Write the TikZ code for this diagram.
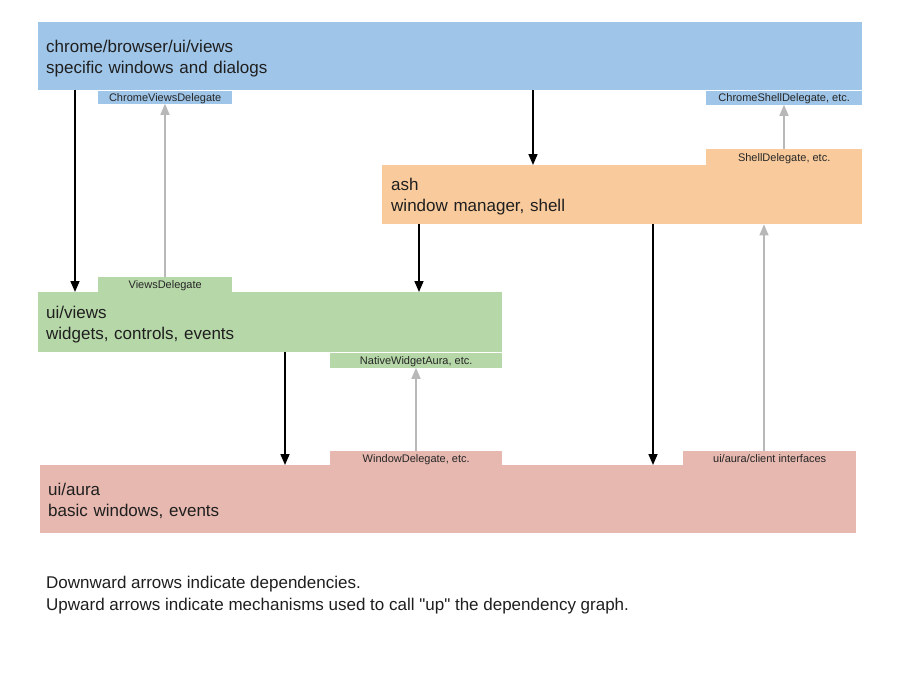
\documentclass[tikz,border=0pt]{standalone}
\usepackage{fontspec}
\setmainfont{Liberation Sans}[Ligatures=TeXOff]
\usetikzlibrary{calc,arrows.meta,positioning}

\definecolor{chromeblue}{HTML}{9FC5E8}
\definecolor{ashorange}{HTML}{F9CB9C}
\definecolor{viewsgreen}{HTML}{B6D7A8}
\definecolor{aurapink}{HTML}{E6B8AF}

% two lines of a layer, with fixed first height and last depth
\newcommand{\layerlines}[2]{\rule{0pt}{17pt}#1\\#2\rule[-4pt]{0pt}{4pt}}

\tikzset{
  layer/.style={fill=#1, inner xsep=8pt, inner ysep=0pt, anchor=north west, align=left,
    font=\fontsize{17}{21}\selectfont, text=black!88},
  tab/.style={fill=#1, inner sep=0pt, text height=10.5pt, text depth=2pt,
    font=\fontsize{11}{13}\selectfont, text=black!85},
  dep/.style={-{Triangle[width=9pt,length=11pt]}, line width=1.6pt, black},
  callup/.style={-{Triangle[width=9pt,length=11pt]}, line width=1.5pt, black!28},
}

\begin{document}
\begin{tikzpicture}[x=1pt, y=-1pt]
	\useasboundingbox (0, 0) rectangle (900, 680);
	\fill[white] (0, 0) rectangle (900, 680);
	\coordinate (origin) at (0, 0);

	% layers
	\node[layer=chromeblue, minimum height=68pt, text width=808pt] (chrome) at ($(origin) + (38, 22)$) {\layerlines{chrome/browser/ui/views}{specific windows and dialogs}};
	\node[layer=ashorange, minimum height=59pt, text width=462pt, inner xsep=9pt] (ash) at ($(origin) + (382, 165)$) {\layerlines{ash}{window manager, shell}};
	\node[layer=viewsgreen, minimum height=60pt, text width=448pt] (views) at ($(origin) + (38, 292)$) {\layerlines{ui/views}{widgets, controls, events}};
	\node[layer=aurapink, minimum height=68pt, text width=800pt] (aura) at ($(origin) + (40, 465)$) {\layerlines{ui/aura}{basic windows, events}};

	% delegate tabs
	\node[tab=chromeblue, anchor=north west, minimum width=134pt, minimum height=13pt] (cvd) at ($(chrome.south west) + (60, 0)$) {ChromeViewsDelegate};
	\node[tab=chromeblue, anchor=north east, minimum width=156pt, minimum height=14pt] (csd) at (chrome.south east) {ChromeShellDelegate, etc.};
	\node[tab=ashorange, anchor=south east, minimum width=156pt, minimum height=16pt] (sd) at (ash.north east) {ShellDelegate, etc.};
	\node[tab=viewsgreen, anchor=south west, minimum width=134pt, minimum height=15pt] (vd) at ($(views.north west) + (60, 0)$) {ViewsDelegate};
	\node[tab=viewsgreen, anchor=north east, minimum width=172pt, minimum height=15pt] (nwa) at (views.south east) {NativeWidgetAura, etc.};
	\node[tab=aurapink, anchor=south west, minimum width=172pt, minimum height=14pt] (wd) at ($(aura.north west) + (290, 0)$) {WindowDelegate, etc.};
	\node[tab=aurapink, anchor=south east, minimum width=173pt, minimum height=14pt] (client) at (aura.north east) {ui/aura/client interfaces};

	% dependencies
	\draw[dep] ($(chrome.south west) + (37, 0)$) -- ($(views.north west) + (37, 0)$);
	\draw[dep] ($(chrome.south west) + (495, 0)$) -- ($(ash.north west) + (151, 0)$);
	\draw[dep] ($(ash.south west) + (37, 0)$) -- ($(views.north west) + (381, 0)$);
	\draw[dep] ($(views.south west) + (247, 0)$) -- ($(aura.north west) + (245, 0)$);
	\draw[dep] ($(ash.south west) + (271, 0)$) -- ($(aura.north west) + (613, 0)$);

	% calls up
	\draw[callup] ($(vd.north west) + (67, 0)$) -- ($(cvd.south west) + (67, 0)$);
	\draw[callup] ($(sd.north west) + (78, 0)$) -- ($(csd.south west) + (78, 0)$);
	\draw[callup] ($(wd.north west) + (86, 0)$) -- ($(nwa.south west) + (86, 0)$);
	\draw[callup] ($(client.north west) + (81, 0)$) -- ($(ash.south west) + (382, 0)$);

	\node[anchor=north west, inner sep=0pt, align=left, font=\fontsize{17}{22}\selectfont, text=black!88] (legend) at ($(origin) + (46, 576)$) {Downward arrows indicate dependencies.\\Upward arrows indicate mechanisms used to call "up" the dependency graph.};
\end{tikzpicture}
\end{document}
